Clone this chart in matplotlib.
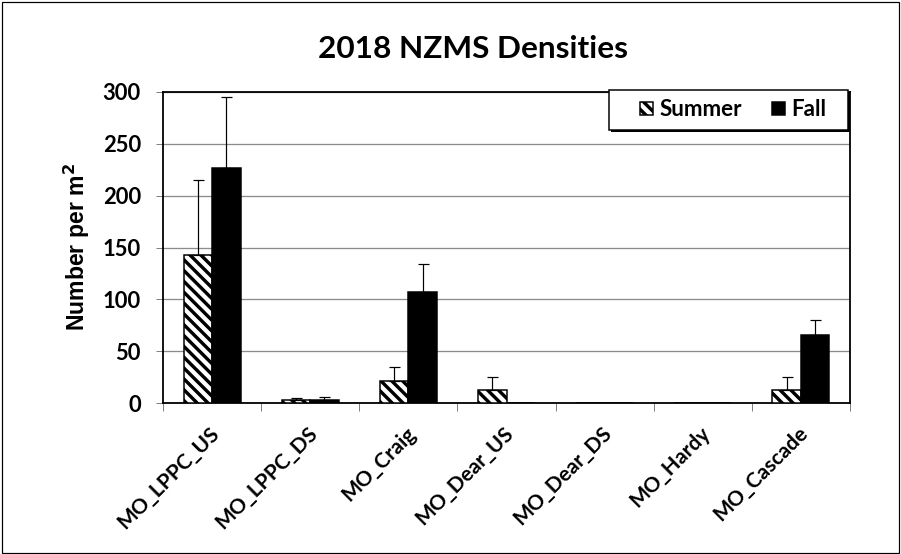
import matplotlib
matplotlib.use("Agg")
import matplotlib.pyplot as plt
import matplotlib.transforms as mtrans
import numpy as np
from matplotlib.patches import Rectangle

# ---- data ----
categories = ["MO_LPPC_US", "MO_LPPC_DS", "MO_Craig", "MO_Dear_US",
              "MO_Dear_DS", "MO_Hardy", "MO_Cascade"]
summer = [143, 3, 21, 13, 0, 0, 12.5]
summer_err = [72, 1.5, 14, 12, 0, 0, 12.5]
fall = [227, 3, 107, 0, 0, 0, 66]
fall_err = [68, 2.5, 27, 0, 0, 0, 14]
yticks = [0, 50, 100, 150, 200, 250, 300]

DPI = 130
W, H = 901, 554
def P(px):  # pixels -> points
    return px * 72.0 / DPI

BS = chr(92)
FONT = 'Lato'

plt.rcParams['hatch.linewidth'] = P(3.4)
plt.rcParams['hatch.color'] = 'black'

fig = plt.figure(figsize=(W / DPI, H / DPI), dpi=DPI)
fig.patches.append(Rectangle((1.5 / W, 1.5 / H), 1 - 3.5 / W, 1 - 3.5 / H,
                             transform=fig.transFigure, fill=False,
                             edgecolor='black', linewidth=P(1.2), zorder=1))

ax = fig.add_axes([163 / W, 1 - 403 / H, (850 - 163) / W, (403 - 92) / H])

x = np.arange(len(categories))
bw = 0.29
s_vals = np.array(summer, dtype=float)
f_vals = np.array(fall, dtype=float)
s_err = np.array(summer_err, dtype=float)
f_err = np.array(fall_err, dtype=float)

b1 = ax.bar(x - bw / 2, s_vals, bw, facecolor='white', edgecolor='black',
            hatch=BS * 4, linewidth=P(1.5), label='Summer', zorder=3)
b2 = ax.bar(x + bw / 2, f_vals, bw, facecolor='black', edgecolor='black',
            linewidth=P(1.5), label='Fall', zorder=3)

for xs, v, e in ((x - bw / 2, s_vals, s_err), (x + bw / 2, f_vals, f_err)):
    m = e > 0
    ax.errorbar(xs[m], v[m], yerr=[np.zeros(m.sum()), e[m]], fmt='none',
                ecolor='black', elinewidth=P(1.2), capsize=P(5.5),
                capthick=P(1.2), zorder=4)

ax.set_xlim(-0.5, len(categories) - 0.5)
ax.set_ylim(0, 300)
ax.set_yticks(yticks)
ax.set_yticklabels([str(t) for t in yticks], fontsize=P(22),
                   fontweight='bold', family=FONT)
ax.yaxis.grid(True, color='#8c8c8c', linewidth=P(1.3), zorder=0)
ax.set_axisbelow(True)
ax.tick_params(axis='y', direction='out', length=P(7), width=P(1),
               color='#808080', pad=P(15))

ax.set_xticks(x)
ax.set_xticklabels(categories, rotation=45, ha='right', va='top',
                   rotation_mode='anchor', fontsize=P(21), fontweight='bold',
                   family=FONT)
ax.tick_params(axis='x', which='major', length=0, pad=P(20))
shift = mtrans.ScaledTranslation(-3 / DPI, 0, fig.dpi_scale_trans)
for lab in ax.get_xticklabels():
    lab.set_transform(lab.get_transform() + shift)
ax.set_xticks(np.arange(len(categories) + 1) - 0.5, minor=True)
ax.tick_params(axis='x', which='minor', direction='out', length=P(8),
               width=P(1), color='#808080')

for sp in ax.spines.values():
    sp.set_color('black')
    sp.set_linewidth(P(1.8))

ax.set_ylabel('Number per m$^\\mathbf{2}$', fontsize=P(23), fontweight='bold',
              family='Liberation Sans', labelpad=P(11))

fig.text(473 / W, 1 - 49 / H, '2018 NZMS Densities', ha='center', va='center',
         fontsize=P(31.5), fontweight='bold', family=FONT)

# legend frame with black drop shadow
lx0, lx1, ly0, ly1 = 609, 848, 90, 130
fig.patches.append(Rectangle(((lx0 + 2) / W, 1 - (ly1 + 2) / H),
                             (lx1 - lx0) / W, (ly1 - ly0) / H,
                             transform=fig.transFigure, facecolor='black',
                             edgecolor='black', linewidth=0, zorder=2))
fig.patches.append(Rectangle((lx0 / W, 1 - ly1 / H),
                             (lx1 - lx0) / W, (ly1 - ly0) / H,
                             transform=fig.transFigure, facecolor='white',
                             edgecolor='black', linewidth=P(1.5), zorder=3))

leg = fig.legend(handles=[b1, b2], labels=['Summer', 'Fall'],
                 loc='center left',
                 bbox_to_anchor=(638 / W, 1 - 110 / H),
                 bbox_transform=fig.transFigure, ncol=2, frameon=False,
                 prop={'family': FONT, 'weight': 'bold', 'size': P(22.5)},
                 handlelength=0.55, handleheight=0.55, handletextpad=0.3,
                 columnspacing=1.35, borderpad=0.1, borderaxespad=0)
leg.set_zorder(5)

fig.savefig('out.png', dpi=DPI, facecolor='white')
